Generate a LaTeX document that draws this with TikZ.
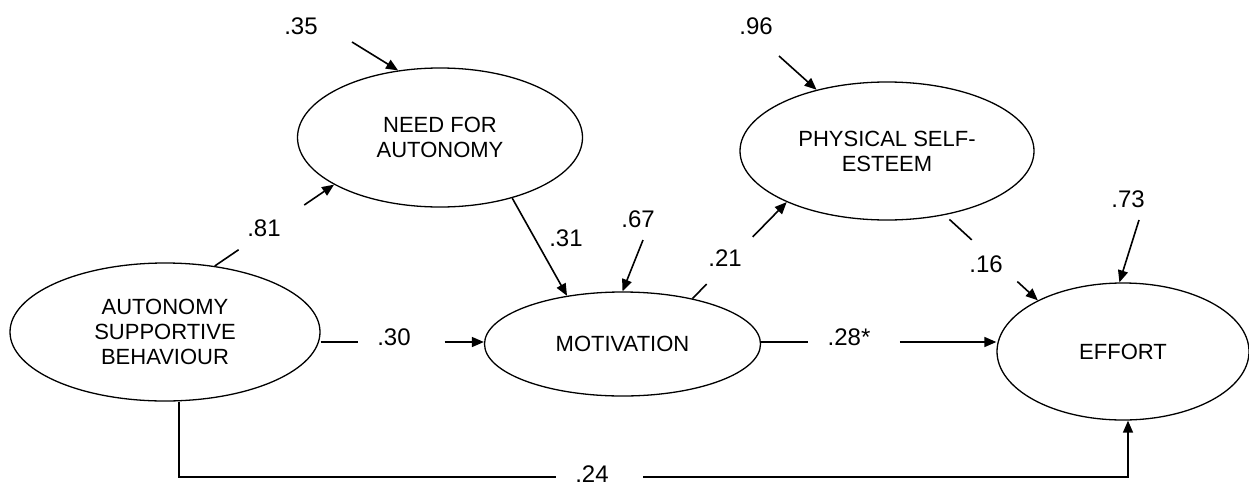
\documentclass[tikz,border=0pt]{standalone}
\usepackage{fontspec}
\setmainfont{Liberation Sans}
\usetikzlibrary{shapes.geometric,arrows.meta,calc}
\begin{document}
\begin{tikzpicture}[x=1pt,y=-1pt,
  lv/.style={draw, ellipse, line width=1.3pt, inner sep=0pt, align=center, font=\fontsize{22}{25}\selectfont},
  num/.style={font=\fontsize{24}{28}\selectfont, inner sep=0pt},
  seg/.style={line width=1.6pt},
  arr/.style={line width=1.6pt, -{Triangle[length=12pt,width=10pt]}}]
\useasboundingbox (0,0) rectangle (1249,482);

% latent variables
\node[lv, minimum width=310pt, minimum height=138pt] (asb) at (165,332) {AUTONOMY\\SUPPORTIVE\\BEHAVIOUR};
\node[lv, minimum width=285pt, minimum height=139pt] (nfa) at (440,137.5) {NEED FOR\\AUTONOMY};
\node[lv, minimum width=294pt, minimum height=138pt] (pse) at (887,151) {PHYSICAL SELF-\\ESTEEM};
\node[lv, minimum width=276pt, minimum height=104pt] (mot) at (622.5,344) {MOTIVATION};
\node[lv, minimum width=252pt, minimum height=137pt] (eff) at (1123,351.5) {EFFORT};

% disturbance arrows
\coordinate (s35) at (352,42);
\draw[arr] (s35) -- (nfa.122);
\node[num] (l35) at (301,26) {.35};

\coordinate (s96) at (779,56);
\draw[arr] (s96) -- (pse.139);
\node[num] (l96) at (756,26) {.96};

\coordinate (s67) at (643,240);
\draw[arr] (s67) -- (mot.north);
\node[num] (l67) at (638,219) {.67};

\coordinate (s73) at (1139,220);
\draw[arr] (s73) -- (eff.93);
\node[num] (l73) at (1128,199) {.73};

% .81
\coordinate (a81) at (asb.53);
\coordinate (b81) at (nfa.204);
\draw[seg] (a81) -- ($(a81)!0.2!(b81)$);
\draw[arr] ($(a81)!0.75!(b81)$) -- (b81);
\node[num] (l81) at (264,228) {.81};

% .31
\draw[arr] (nfa.-40) -- (mot.139);
\node[num] (l31) at (566,238) {.31};

% .21
\coordinate (a21) at (mot.33);
\coordinate (b21) at (pse.207);
\draw[seg] (a21) -- ($(a21)!0.15!(b21)$);
\draw[arr] ($(a21)!0.64!(b21)$) -- (b21);
\node[num] (l21) at (725,258) {.21};

% .16
\coordinate (a16) at (pse.-48);
\coordinate (b16) at (eff.149);
\draw[seg] ($(a16)!0.05!(b16)$) -- ($(a16)!0.29!(b16)$);
\draw[arr] ($(a16)!0.78!(b16)$) -- (b16);
\node[num] (l16) at (986,264) {.16};

% .30
\coordinate (row) at (0,342);
\coordinate (a30) at (asb.east |- row);
\coordinate (b30) at (mot.west |- row);
\draw[seg] (a30) -- ($(a30)!0.23!(b30)$);
\draw[arr] ($(a30)!0.76!(b30)$) -- (b30);
\node[num] (l30) at (394,337) {.30};

% .28*
\coordinate (a28) at (mot.east |- row);
\coordinate (b28) at (eff.west |- row);
\draw[seg] (a28) -- ($(a28)!0.2!(b28)$);
\draw[arr] ($(a28)!0.59!(b28)$) -- (b28);
\node[num] (l28) at (849,337) {.28*};

% .24
\coordinate (a24) at ($(asb.south)+(14,0)$);
\coordinate (g1) at (556,477);
\coordinate (g2) at (643,477);
\coordinate (b24) at ($(eff.south)+(5,0)$);
\draw[seg] (a24) |- (g1);
\draw[arr] (g2) -| (b24);
\node[num] (l24) at (592,474) {.24};
\end{tikzpicture}
\end{document}
